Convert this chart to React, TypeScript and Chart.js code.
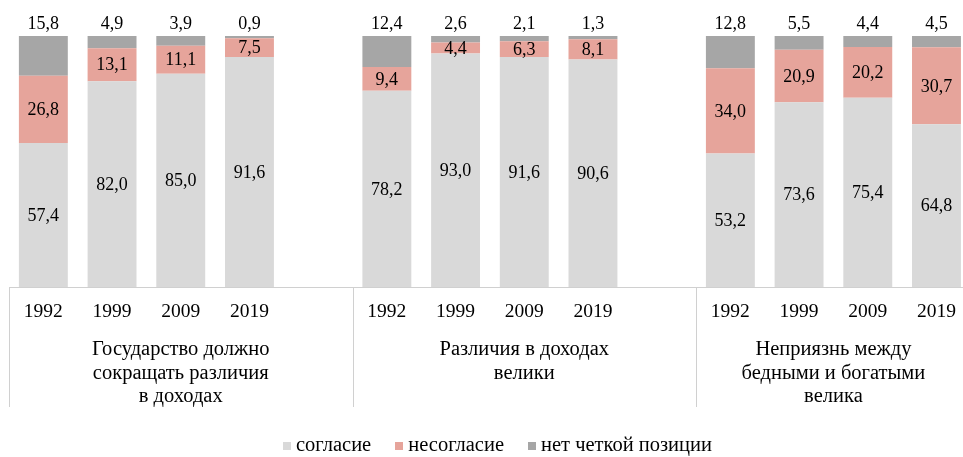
import React, { useEffect, useRef } from "react";
import { Chart, registerables } from "chart.js";

Chart.register(...registerables);

const years = ["1992", "1999", "2009", "2019"];
const groupLabels = [
  ["Государство должно", "сокращать различия", "в доходах"],
  ["Различия в доходах", "велики"],
  ["Неприязнь между", "бедными и богатыми", "велика"],
];
const seriesNames = ["согласие", "несогласие", "нет четкой позиции"];
const agree = [57.4, 82.0, 85.0, 91.6, 78.2, 93.0, 91.6, 90.6, 53.2, 73.6, 75.4, 64.8];
const disagree = [26.8, 13.1, 11.1, 7.5, 9.4, 4.4, 6.3, 8.1, 34.0, 20.9, 20.2, 30.7];
const unclear = [15.8, 4.9, 3.9, 0.9, 12.4, 2.6, 2.1, 1.3, 12.8, 5.5, 4.4, 4.5];

const colors = ["#d9d9d9", "#e6a49b", "#a6a6a6"];
const FONT = '"Liberation Serif", "Times New Roman", serif';
const SLOTS_PER_GROUP = 5;

const toPoints = (vals: number[]) =>
  vals.map((v, i) => ({
    x: Math.floor(i / years.length) * SLOTS_PER_GROUP + (i % years.length),
    y: v,
  }));

const fmt = (v: number) => v.toFixed(1).replace(".", ",");

const overlayPlugin = {
  id: "overlay",
  afterDatasetsDraw(chart: any) {
    const ctx = chart.ctx;
    ctx.save();
    ctx.fillStyle = "#000";
    ctx.font = `18px ${FONT}`;
    ctx.textAlign = "center";
    ctx.textBaseline = "middle";
    chart.data.datasets.forEach((ds: any, d: number) => {
      const meta = chart.getDatasetMeta(d);
      meta.data.forEach((el: any, i: number) => {
        const v = ds.data[i].y;
        const { x, y, base } = el.getProps(["x", "y", "base"], true);
        if (d < 2) {
          ctx.fillText(fmt(v), x, (y + base) / 2 + 1);
        } else {
          ctx.fillText(fmt(v), x, y - 12);
        }
      });
    });
    ctx.restore();
  },
  afterDraw(chart: any) {
    const ctx = chart.ctx;
    const xs = chart.scales.x;
    const area = chart.chartArea;
    ctx.save();
    // axis line
    ctx.strokeStyle = "#d0d0d0";
    ctx.lineWidth = 1;
    ctx.beginPath();
    ctx.moveTo(area.left, area.bottom + 0.5);
    ctx.lineTo(area.right, area.bottom + 0.5);
    ctx.stroke();
    // dividers
    for (let g = 0; g < groupLabels.length; g++) {
      const px = Math.round(xs.getPixelForValue(g * SLOTS_PER_GROUP - 0.5)) + 0.5;
      ctx.beginPath();
      ctx.moveTo(px, area.bottom);
      ctx.lineTo(px, area.bottom + 120);
      ctx.stroke();
    }
    // year ticks
    ctx.fillStyle = "#000";
    ctx.textAlign = "center";
    ctx.textBaseline = "middle";
    ctx.font = `19.5px ${FONT}`;
    for (let g = 0; g < groupLabels.length; g++) {
      years.forEach((yr, j) => {
        const px = xs.getPixelForValue(g * SLOTS_PER_GROUP + j);
        ctx.fillText(yr, px, area.bottom + 25);
      });
    }
    // group labels
    ctx.font = `20.5px ${FONT}`;
    groupLabels.forEach((lines, g) => {
      const last = g === groupLabels.length - 1;
      const c = g * SLOTS_PER_GROUP + (last ? (years.length - 1) / 2 : (SLOTS_PER_GROUP - 1) / 2);
      const px = xs.getPixelForValue(c);
      lines.forEach((ln, k) => {
        ctx.fillText(ln, px, area.bottom + 63 + k * 23.5);
      });
    });
    // legend
    ctx.font = `20.5px ${FONT}`;
    const box = 8;
    const gapBoxText = 5;
    const gapItems = 24;
    const widths = seriesNames.map((s) => ctx.measureText(s).width);
    const total = widths.reduce((a, w) => a + box + gapBoxText + w, 0) + gapItems * (seriesNames.length - 1);
    let lx = 497.5 - total / 2;
    const ly = 446;
    ctx.textAlign = "left";
    seriesNames.forEach((s, i) => {
      ctx.fillStyle = colors[i];
      ctx.fillRect(Math.round(lx), ly - box / 2, box, box);
      ctx.fillStyle = "#000";
      ctx.fillText(s, lx + box + gapBoxText, ly);
      lx += box + gapBoxText + widths[i] + gapItems;
    });
    ctx.restore();
  },
};

export default function App() {
  const ref = useRef<HTMLCanvasElement | null>(null);
  useEffect(() => {
    document.body.style.margin = "0";
    if (!ref.current) return;
    const chart = new Chart(ref.current, {
      type: "bar",
      data: {
        datasets: [
          { label: seriesNames[0], data: toPoints(agree), backgroundColor: colors[0] },
          { label: seriesNames[1], data: toPoints(disagree), backgroundColor: colors[1] },
          { label: seriesNames[2], data: toPoints(unclear), backgroundColor: colors[2] },
        ],
      },
      options: {
        responsive: false,
        animation: false,
        layout: { padding: { left: 9, right: 0, top: 36, bottom: 170 } },
        datasets: { bar: { categoryPercentage: 0.8, barPercentage: 0.89 } },
        plugins: { legend: { display: false }, tooltip: { enabled: false } },
        scales: {
          x: { type: "linear", min: -0.5, max: 13.386, offset: false, stacked: true, display: false },
          y: { min: 0, max: 100, stacked: true, display: false },
        },
      },
      plugins: [overlayPlugin],
    });
    return () => chart.destroy();
  }, []);
  return (
    <div style={{ position: "absolute", left: 0, top: 0, width: 963, height: 457, background: "#fff" }}>
      <canvas ref={ref} width={963} height={457} />
    </div>
  );
}
